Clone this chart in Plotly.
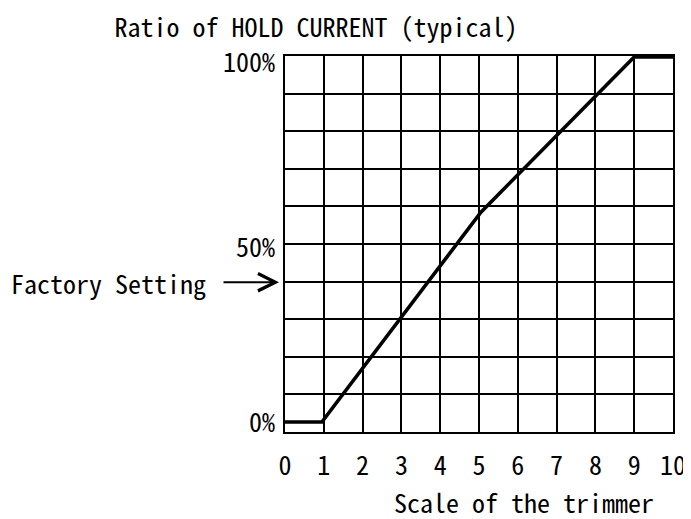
import numpy as np
import plotly.graph_objects as go

# data
trimmer_scale = [0, 0.95, 5.05, 9, 10]
hold_ratio = [0, 0, 57.5, 100, 100]
x_ticks = list(range(0, 11))
y_label_text = ["0%", "50%", "100%"]
y_label_pos = [-0.3, 47.8, 98.4]
factory_setting_pct = 38.3

FONT = "Noto Sans Mono CJK JP, DejaVu Sans Mono, monospace"
FS = 26

# page body offset of the html (default 8px margin)
OFF = 8
W, H = 691 - OFF, 519 - OFF

y_lo, y_hi = -2.74, 100.27
grid_y = list(np.linspace(y_lo, y_hi, 11))

fig = go.Figure()
fig.add_trace(go.Scatter(x=trimmer_scale, y=hold_ratio, mode="lines",
                         line=dict(color="black", width=3.6), showlegend=False,
                         hoverinfo="skip"))
fig.add_trace(go.Scatter(x=[0], y=[0], yaxis="y2", mode="markers",
                         marker=dict(opacity=0), showlegend=False, hoverinfo="skip"))

fig.update_layout(
    template="none",
    width=W, height=H,
    margin=dict(l=285 - OFF, r=18, t=56 - OFF, b=87, autoexpand=False),
    paper_bgcolor="white", plot_bgcolor="white",
    font=dict(family=FONT, size=FS, color="black"),
    title=dict(text="Ratio of HOLD CURRENT (typical)", x=(316 - OFF) / W, xanchor="center",
               y=1 - (28 - OFF) / H, yanchor="middle", xref="container", yref="container",
               font=dict(family=FONT, size=FS, color="black")),
    xaxis=dict(range=[0, 10], tickvals=x_ticks, ticktext=[str(v) for v in x_ticks],
               showgrid=True, gridcolor="black", gridwidth=2, zeroline=False,
               showline=True, mirror=True, linecolor="black", linewidth=2,
               ticks="", ticklabelstandoff=10, automargin=False,
               tickfont=dict(family=FONT, size=FS)),
    yaxis=dict(range=[y_lo, y_hi], tickvals=grid_y, showticklabels=False,
               showgrid=True, gridcolor="black", gridwidth=2, zeroline=False,
               showline=True, mirror=True, linecolor="black", linewidth=2, ticks="",
               automargin=False),
    yaxis2=dict(range=[y_lo, y_hi], overlaying="y", side="left", anchor="x",
                tickvals=y_label_pos, ticktext=y_label_text, showgrid=False,
                zeroline=False, showline=False, ticks="", ticklabelstandoff=9,
                automargin=False, tickfont=dict(family=FONT, size=FS)),
)

y_fs_paper = (factory_setting_pct - y_lo) / (y_hi - y_lo)
fig.add_annotation(text="Factory Setting", xref="paper", yref="paper",
                   x=(208 - 285) / 388, y=y_fs_paper, xanchor="right", yanchor="middle",
                   showarrow=False, font=dict(family=FONT, size=FS))
fig.add_annotation(text="", xref="paper", yref="paper",
                   x=(279 - 285) / 388, y=y_fs_paper, ax=-57, ay=0,
                   showarrow=True, arrowhead=5, arrowsize=1.7, arrowwidth=2,
                   arrowcolor="black", standoff=0, startstandoff=0)
fig.add_annotation(text="Scale of the trimmer", xref="paper", yref="paper",
                   x=(524 - 285) / 388, y=(432 - 501) / 376, xanchor="center", yanchor="middle",
                   showarrow=False, font=dict(family=FONT, size=FS))

fig.write_html("out.html")
